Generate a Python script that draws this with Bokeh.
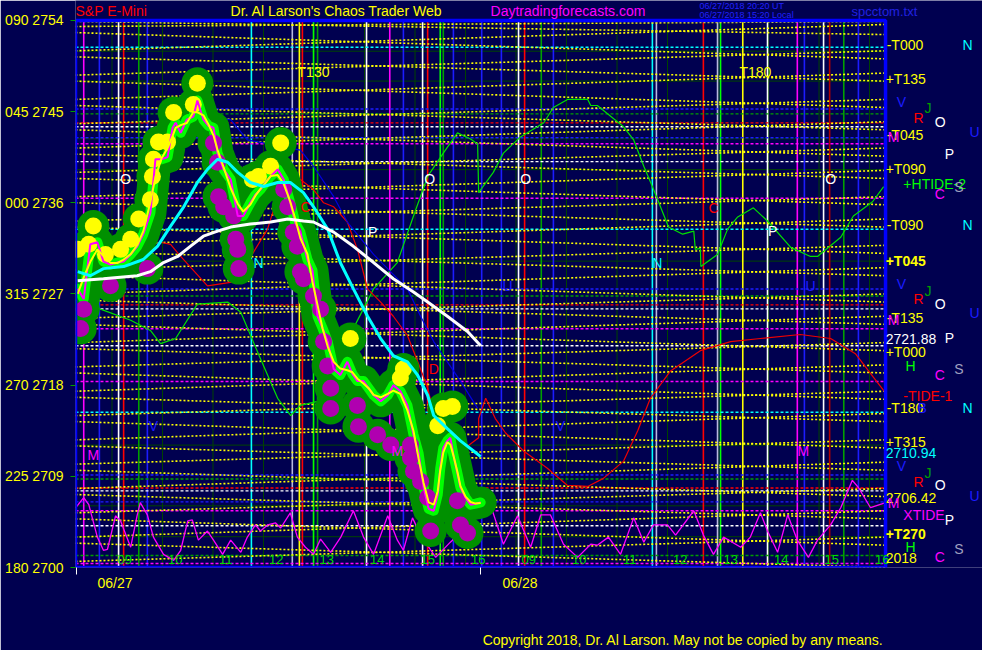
from bokeh.plotting import figure
from bokeh.models import (Range1d, FixedTicker, ColumnDataSource, CustomJSTickFormatter, LinearAxis)
from bokeh.embed import file_html
from bokeh.resources import INLINE
from bokeh.core.properties import value
import pandas as pd

FONT = "Liberation Sans"
BG = "#000050"
Y, CY, BL, GR, GN, RD, DRD, WH, MG, LAV, GY = ("#ffff00", "#00ffff", "#1c1cff", "#00a000", "#00ff00",
                                               "#ff0000", "#b00000", "#ffffff", "#ff00ff", "#b8b8e0", "#a0a0c0")

# x = session hour: 06/27 09:00 -> 9 ; 06/28 09:00 -> 17 (overnight compressed)
X_START, X_END = 8.277, 24.317          # chart box
Y_MIN, Y_MAX = 2700, 2754
VIEW_X_END = 26.237                     # frame extends right for the side labels
VIEW_Y_END = 2755.964                   # frame extends up for the header

LEFT_TICKS = [2700, 2709, 2718, 2727, 2736, 2745, 2754]
LEFT_LABELS = ["180 2700", "225 2709", "270 2718", "315 2727", "000 2736", "045 2745", "090 2754"]
DATE_TICKS = [9.06, 17.08]
DATE_MARKS = [8.30, 16.30]
HOURS = [9, 10, 11, 12, 13, 14, 15, 16]
COPYRIGHT = "Copyright 2018, Dr. Al Larson. May not be copied by any means."

PRICE_T = [8.32, 8.44, 8.57, 8.71, 8.83, 8.97, 9.11, 9.23, 9.37, 9.50, 9.62, 9.76, 9.86, 9.98, 10.10, 10.20,
           10.26, 10.36, 10.48, 10.61, 10.69, 10.81, 10.91, 11.01, 11.09, 11.21, 11.35, 11.49, 11.60, 11.74,
           11.84, 11.94, 12.04, 12.14, 12.28, 12.40, 12.53, 12.63, 12.73, 12.87, 12.97, 13.07, 13.17, 13.27,
           13.39, 13.52, 13.66, 13.76, 13.86, 13.98, 14.08, 14.18, 14.32, 14.46, 14.57, 14.71, 14.85, 14.97,
           15.07, 15.17, 15.27, 15.37, 15.45, 15.50, 15.56, 15.64, 15.70, 15.76, 15.84, 15.90, 16.00, 16.10,
           16.20, 16.30]
PRICE_V = [2727.5, 2726.5, 2731.9, 2732.1, 2730.2, 2729.9, 2730.1, 2730.2, 2730.9, 2731.7, 2732.9, 2735.0,
           2740.3, 2740.3, 2740.5, 2743.4, 2743.9, 2742.9, 2744.2, 2744.5, 2746.1, 2744.2, 2743.6, 2743.4,
           2740.9, 2739.3, 2738.3, 2734.7, 2734.7, 2736.0, 2736.8, 2737.3, 2738.0, 2738.6, 2739.3, 2738.3,
           2736.0, 2734.0, 2733.1, 2730.4, 2729.3, 2724.8, 2723.6, 2722.3, 2719.6, 2719.0, 2720.3, 2719.1,
           2718.4, 2718.4, 2717.7, 2717.0, 2716.4, 2717.0, 2718.0, 2717.4, 2716.0, 2713.1, 2711.3, 2707.9,
           2705.8, 2705.6, 2707.2, 2709.8, 2711.8, 2712.5, 2712.8, 2711.1, 2709.3, 2707.9, 2706.9, 2706.2,
           2706.3, 2706.42]

CYAN_T = [8.32, 8.57, 8.83, 9.23, 9.62, 9.90, 10.16, 10.42, 10.69, 10.89, 11.09, 11.29, 11.49, 11.74, 12.00,
          12.28, 12.53, 12.79, 12.99, 13.27, 13.52, 13.78, 14.06, 14.32, 14.57, 14.85, 15.05, 15.25, 15.37,
          15.64, 15.90, 16.16, 16.30]
CYAN_V = [2729.2, 2728.8, 2729.5, 2729.7, 2730.4, 2731.7, 2733.7, 2735.6, 2738.0, 2739.3, 2740.3, 2740.0,
          2739.0, 2738.0, 2737.6, 2738.0, 2738.0, 2737.0, 2735.6, 2733.4, 2730.1, 2727.5, 2724.8, 2722.6,
          2720.9, 2720.3, 2719.0, 2717.0, 2715.0, 2713.7, 2712.5, 2711.5, 2710.94]

WHITE_T = [8.32, 8.83, 9.50, 9.76, 10.02, 10.30, 10.55, 10.81, 11.09, 11.35, 11.74, 12.14, 12.48, 12.79,
           12.99, 13.39, 13.78, 14.18, 14.57, 14.97, 15.25, 15.64, 16.04, 16.30]
WHITE_V = [2728.3, 2728.5, 2728.8, 2729.2, 2730.1, 2730.7, 2731.7, 2732.7, 2733.2, 2733.6, 2733.9, 2734.1,
           2734.4, 2734.2, 2734.1, 2733.1, 2731.7, 2730.1, 2728.5, 2727.2, 2726.2, 2724.8, 2723.3, 2721.88]

RED_T = [8.32, 8.97, 9.56, 9.96, 10.16, 10.36, 10.89, 11.41, 11.80, 12.08, 12.28, 12.48, 12.73, 12.99,
         13.19, 13.39, 13.66, 13.86, 14.06, 14.32, 14.57, 14.85, 15.11, 15.25, 15.35, 15.51, 15.66, 15.94,
         16.26, 16.26, 16.40, 16.59, 16.79, 17.15, 17.62, 18.02, 18.42, 18.73, 19.13, 19.41, 19.66, 20.06,
         20.65, 21.25, 21.84, 22.63, 23.23, 23.72, 24.06, 24.32]
RED_V = [2728.2, 2728.5, 2729.7, 2732.1, 2731.9, 2730.7, 2727.8, 2728.2, 2731.1, 2733.4, 2736.6, 2738.3,
         2738.3, 2737.3, 2736.0, 2735.6, 2734.1, 2731.4, 2727.5, 2726.2, 2724.8, 2722.9, 2719.6, 2717.7,
         2715.7, 2712.8, 2711.0, 2711.6, 2712.8, 2714.7, 2716.7, 2714.7, 2713.3, 2711.5, 2709.8, 2708.1,
         2708.0, 2708.8, 2710.5, 2713.5, 2716.7, 2719.4, 2721.4, 2722.3, 2722.6, 2723.0, 2722.6, 2721.1,
         2718.9, 2717.2]

GREEN_T = [8.32, 8.77, 9.37, 9.76, 9.96, 10.26, 10.69, 11.29, 11.55, 11.94, 12.28, 12.54, 12.73, 13.07,
           13.53, 13.78, 14.18, 14.65, 14.97, 15.25, 15.56, 15.84, 16.10, 16.24, 16.26, 16.55, 16.75, 17.09,
           17.55, 17.74, 18.02, 18.42, 18.48, 18.61, 19.13, 19.33, 19.53, 19.70, 19.86, 20.02, 20.30, 20.52,
           20.55, 20.65, 20.66, 20.99, 21.19, 21.39, 21.70, 21.98, 22.44, 22.83, 22.97, 23.43, 23.68, 24.06,
           24.28]
GREEN_V = [2727.0, 2725.5, 2724.4, 2723.4, 2722.1, 2722.6, 2726.0, 2726.2, 2725.2, 2720.6, 2716.7, 2715.0,
           2716.0, 2716.4, 2718.7, 2723.6, 2727.5, 2730.1, 2734.7, 2738.6, 2740.9, 2742.9, 2742.3, 2741.8,
           2737.0, 2739.0, 2740.9, 2742.5, 2743.9, 2745.4, 2746.2, 2746.2, 2745.6, 2745.6, 2743.5, 2742.2,
           2739.6, 2737.6, 2735.6, 2733.6, 2732.9, 2733.2, 2731.4, 2731.5, 2729.7, 2730.9, 2733.4, 2734.6,
           2735.5, 2734.2, 2731.6, 2730.7, 2730.7, 2732.6, 2734.7, 2736.1, 2737.6]

BLUE_T = [10.75, 11.35, 11.68, 12.73, 12.99, 13.39, 13.66, 14.18, 14.85, 15.11, 15.37, 15.64, 15.90, 16.24]
BLUE_V = [2744.5, 2744.2, 2742.2, 2741.2, 2739.6, 2736.6, 2734.1, 2730.9, 2727.5, 2724.8, 2722.3, 2720.3,
          2718.4, 2715.7]

OSC_T = [8.28, 8.44, 8.54, 8.71, 8.83, 8.91, 9.07, 9.17, 9.37, 9.50, 9.56, 9.70, 9.82, 10.02, 10.22, 10.36,
         10.50, 10.59, 10.71, 10.89, 11.01, 11.19, 11.35, 11.55, 11.68, 11.84, 11.94, 12.08, 12.24, 12.34,
         12.53, 12.67, 12.83, 12.99, 13.13, 13.33, 13.53, 13.78, 13.98, 14.18, 14.46, 14.65, 14.77, 14.95,
         15.11, 15.41, 15.70, 16.00, 16.30, 16.50, 16.75, 17.03, 17.29, 17.49, 17.68, 17.94, 18.22, 18.48,
         18.61, 18.83, 19.07, 19.33, 19.53, 19.72, 20.00, 20.16, 20.52, 20.71, 20.91, 21.11, 21.45, 21.64,
         21.84, 21.98, 22.18, 22.38, 22.57, 22.79, 22.97, 23.23, 23.43, 23.66, 23.78, 24.02, 24.32]
OSC_V = [2705.9, 2706.9, 2706.2, 2703.0, 2701.7, 2701.8, 2705.1, 2704.6, 2702.0, 2705.2, 2706.4, 2705.2,
         2703.0, 2701.3, 2700.7, 2701.7, 2704.6, 2704.7, 2702.7, 2703.6, 2702.7, 2701.3, 2702.7, 2701.5,
         2703.0, 2704.2, 2703.6, 2704.2, 2704.4, 2703.9, 2705.4, 2703.0, 2702.0, 2701.3, 2702.8, 2701.5,
         2703.0, 2705.6, 2703.0, 2701.3, 2705.1, 2702.7, 2701.7, 2704.9, 2703.2, 2701.0, 2702.5, 2703.9,
         2705.4, 2706.1, 2702.3, 2705.1, 2702.0, 2705.2, 2705.2, 2702.3, 2701.0, 2702.3, 2702.2, 2703.0,
         2701.3, 2704.9, 2702.5, 2704.2, 2704.2, 2703.2, 2705.6, 2703.2, 2701.3, 2703.0, 2702.0, 2703.0,
         2705.4, 2703.6, 2701.5, 2705.2, 2702.7, 2701.0, 2702.7, 2704.2, 2705.9, 2708.6, 2707.9, 2705.9,
         2706.4]

YDOT_T = [8.32, 8.54, 8.63, 8.87, 9.17, 9.37, 9.53, 9.76, 9.80, 9.82, 9.92, 10.10, 10.22, 10.61, 10.69,
          11.78, 11.90, 12.14, 12.34, 13.72, 14.71, 14.77, 15.45, 15.56, 15.74]
YDOT_V = [2731.4, 2731.9, 2733.7, 2730.9, 2731.4, 2732.4, 2734.4, 2736.3, 2738.6, 2740.3, 2742.0, 2742.0,
          2744.9, 2745.7, 2747.8, 2738.3, 2738.6, 2739.6, 2741.9, 2722.6, 2718.7, 2719.6, 2714.0, 2715.7,
          2715.9]
MDOT_T = [8.38, 8.44, 8.97, 9.70, 11.01, 11.09, 11.11, 11.21, 11.41, 11.45, 11.49, 11.51, 12.40, 12.48,
          12.59, 12.67, 12.73, 12.79, 12.99, 13.13, 13.19, 13.27, 13.33, 13.33, 13.86, 13.88, 14.26, 14.52,
          14.91, 14.91, 14.97, 15.11, 15.25, 15.31, 15.84, 15.90, 16.04]
MDOT_V = [2723.6, 2725.5, 2727.8, 2729.5, 2741.9, 2740.0, 2736.6, 2735.6, 2734.7, 2732.4, 2731.4, 2729.5,
          2737.3, 2735.6, 2733.1, 2731.7, 2729.2, 2728.5, 2726.8, 2725.5, 2722.3, 2719.9, 2717.7, 2715.7,
          2716.0, 2713.9, 2713.1, 2712.1, 2712.1, 2710.8, 2709.5, 2708.5, 2706.9, 2703.6, 2706.6, 2704.2,
          2703.4]

# yellow dotted harmonic lines: price at left edge, price at right edge
YL_LEFT = [2700.6, 2703.0, 2705.4, 2707.8, 2710.2, 2712.6, 2715.0, 2717.4, 2719.8, 2722.2, 2724.6, 2727.0,
           2729.4, 2731.8, 2734.2, 2736.6, 2739.0, 2741.4, 2743.8, 2746.2, 2748.6, 2751.0, 2753.4,
           2702.4, 2704.8, 2707.2, 2709.6, 2712.0, 2714.4, 2716.8, 2719.2, 2721.6, 2724.0, 2726.4, 2728.8,
           2731.2, 2733.6, 2736.0, 2738.4, 2740.8, 2743.2, 2745.6, 2748.0, 2750.4, 2752.8, 2753.9]
YL_RIGHT = [2703.0, 2705.6, 2707.8, 2710.4, 2712.6, 2715.2, 2717.4, 2720.0, 2722.2, 2724.8, 2727.0, 2729.6,
            2731.8, 2734.4, 2736.6, 2739.2, 2741.4, 2744.0, 2746.2, 2748.8, 2751.0, 2753.6, 2753.9,
            2700.0, 2702.2, 2704.8, 2707.0, 2709.6, 2711.8, 2714.4, 2716.6, 2719.2, 2721.4, 2724.0, 2726.2,
            2728.8, 2731.0, 2733.6, 2735.8, 2738.4, 2740.6, 2743.2, 2745.4, 2748.0, 2750.2, 2752.6]

VL_X = [8.44, 8.75, 9.13, 9.23, 9.53, 9.70, 11.76, 12.57, 12.71, 12.77, 12.99, 13.07, 14.04, 14.50, 14.77,
        15.15, 15.25, 15.50, 15.56, 15.76, 16.32, 16.71, 17.05, 17.17, 17.50, 17.74, 19.70, 19.78, 20.71,
        20.99, 21.05, 21.49, 21.98, 22.57, 22.71, 23.09, 23.21, 23.49, 23.78]
VL_COLOR = [MG, BL, WH, RD, GR, BL, CY, LAV, Y, RD, GN, GR, WH, MG, BL, WH, RD, GN, GR, BL, BL, BL, WH, RD,
            GR, BL, CY, LAV, RD, LAV, GN, Y, WH, MG, BL, WH, DRD, GR, BL]

HL_Y = [2751.35, 2733.38, 2715.32, 2745.26, 2742.42, 2727.49, 2709.13, 2706.48, 2744.77, 2726.80, 2708.74,
        2701.18, 2743.89, 2725.92, 2707.85, 2743.50, 2740.06, 2725.53, 2721.88, 2707.56, 2704.12, 2741.83,
        2736.44, 2723.56, 2718.36, 2705.60, 2700.39]
HL_COLOR = [CY, CY, CY, BL, BL, BL, BL, BL, GR, GR, GR, GR, RD, RD, RD, WH, WH, WH, WH, WH, WH, MG, MG, MG,
            MG, MG, MG]
HG_Y = [2750.96, 2748.01, 2742.32, 2739.27, 2730.24, 2712.08, 2706.09, 2703.04]

RL_TEXT = ["-T000", "N", "+T135", "V", "J", "R", "O", "U", "-T045", "M", "P", "+T090", "+HTIDE-2", "S", "C",
           "-T090", "N", "+T045", "V", "J", "R", "O", "U", "-T135", "M", "2721.88", "P", "+T000", "H", "S",
           "C", "-TIDE-1", "-T180", "B", "N", "+T315", "2710.94", "V", "J", "R", "O", "U", "2706.42", "M",
           "XTIDE", "P", "+T270", "H", "S", "2018", "C"]
RL_X = [24.34, 25.84, 24.32, 24.54, 25.09, 24.87, 25.29, 25.98, 24.34, 24.36, 25.49, 24.32, 24.67, 25.68,
        25.29, 24.34, 25.84, 24.32, 24.54, 25.09, 24.87, 25.29, 25.98, 24.34, 24.36, 24.32, 25.49, 24.32,
        24.71, 25.68, 25.29, 24.67, 24.34, 24.95, 25.84, 24.32, 24.32, 24.54, 25.09, 24.87, 25.29, 25.98,
        24.32, 24.36, 24.67, 25.49, 24.32, 24.71, 25.68, 24.32, 25.29]
RL_Y = [2751.6, 2751.6, 2748.2, 2745.9, 2745.4, 2744.4, 2744.0, 2743.0, 2742.7, 2742.5, 2740.8, 2739.3,
        2737.9, 2737.6, 2736.9, 2733.8, 2733.8, 2730.3, 2728.0, 2727.3, 2726.5, 2726.0, 2725.1, 2724.6,
        2724.4, 2722.6, 2722.7, 2721.3, 2719.9, 2719.6, 2719.0, 2716.9, 2715.7, 2715.7, 2715.7, 2712.4,
        2711.3, 2710.0, 2709.3, 2708.4, 2708.1, 2707.1, 2706.9, 2706.4, 2705.2, 2704.7, 2703.3, 2702.0,
        2701.8, 2700.9, 2701.0]
RL_COLOR = [Y, CY, Y, BL, GR, RD, WH, BL, Y, MG, WH, Y, GN, GY, MG, Y, CY, Y, BL, GR, RD, WH, BL, Y, MG, WH,
            WH, Y, GN, GY, MG, RD, Y, BL, CY, Y, CY, BL, GR, RD, WH, BL, Y, MG, MG, WH, Y, GN, GY, Y, MG]

IN_TEXT = ["T130", "T180", "O", "O", "O", "O", "N", "N", "P", "P", "C", "C", "M", "M", "M", "D", "V", "V",
           "U", "U"]
IN_X = [12.99, 21.74, 9.27, 15.29, 17.19, 23.23, 11.90, 19.80, 14.16, 22.08, 20.91, 12.83, 8.63, 14.65,
        22.69, 15.37, 9.82, 17.88, 16.83, 22.83]
IN_Y = [2748.9, 2748.9, 2738.3, 2738.3, 2738.3, 2738.3, 2730.1, 2730.1, 2733.1, 2733.2, 2735.5, 2735.6,
        2711.1, 2711.5, 2711.5, 2719.6, 2714.0, 2714.0, 2727.8, 2727.8]
IN_COLOR = [Y, Y, WH, WH, WH, WH, CY, CY, WH, WH, RD, RD, MG, MG, MG, RD, BL, BL, BL, BL]

HEAD_TEXT = ["S&P E-Mini", "Dr. Al Larson's Chaos Trader Web", "Daytradingforecasts.com", "spcctom.txt"]
HEAD_X = [8.277, 11.347, 16.495, 23.644]
HEAD_COLOR = [RD, Y, MG, "#2020e0"]
HEAD_SIZE = ["14px", "14px", "14px", "13px"]
STAMP_TEXT = ["06/27/2018 20:20 UT", "06/27/2018 15:20 Local"]
STAMP_Y = [2755.47, 2754.58]

p = figure(width=982, height=650, x_range=Range1d(X_START, VIEW_X_END), y_range=Range1d(Y_MIN, VIEW_Y_END),
           output_backend="svg", toolbar_location=None,
           min_border_left=75, min_border_right=0, min_border_top=0, min_border_bottom=80,
           background_fill_color=BG, border_fill_color=BG, outline_line_color=None)
p.xgrid.visible = False
p.ygrid.visible = False

# axes
ya = p.yaxis[0]
ya.ticker = FixedTicker(ticks=LEFT_TICKS)
ya.major_label_overrides = dict(zip(LEFT_TICKS, LEFT_LABELS))
ya.major_label_text_color = Y
ya.major_label_text_font = FONT
ya.major_label_text_font_size = "14px"
ya.major_label_standoff = 7
ya.major_tick_out = 5
ya.major_tick_in = 0
ya.major_tick_line_color = GR
ya.minor_tick_line_color = None
ya.axis_line_color = None

xa = p.xaxis[0]
xa.ticker = FixedTicker(ticks=DATE_TICKS, minor_ticks=DATE_MARKS)
xa.formatter = CustomJSTickFormatter(code="return tick < 13 ? '06/27' : '06/28';")
xa.major_label_text_color = Y
xa.major_label_text_font = FONT
xa.major_label_text_font_size = "14px"
xa.major_label_standoff = 0
xa.major_tick_out = 0
xa.major_tick_in = 0
xa.minor_tick_out = 7
xa.minor_tick_in = 0
xa.minor_tick_line_color = WH
xa.axis_line_color = None

ca = LinearAxis(ticker=FixedTicker(ticks=[20.307]),
                formatter=CustomJSTickFormatter(code="return '%s';" % COPYRIGHT))
ca.major_label_text_color = Y
ca.major_label_text_font = FONT
ca.major_label_text_font_size = "14px"
ca.major_label_standoff = 32
ca.major_tick_line_color = None
ca.minor_tick_line_color = None
ca.axis_line_color = None
p.add_layout(ca, "below")

# grids and level lines, bounded to the chart box
gx = [h + d for d in (0, 8) for h in HOURS]
p.segment(x0=gx, y0=[Y_MIN] * len(gx), x1=gx, y1=[Y_MAX] * len(gx), line_color="#004400", line_width=1)
p.segment(x0=[X_START] * len(HG_Y), y0=HG_Y, x1=[X_END] * len(HG_Y), y1=HG_Y, line_color="#004400",
          line_width=1)
p.segment(x0=VL_X, y0=[Y_MIN] * len(VL_X), x1=VL_X, y1=[Y_MAX] * len(VL_X), line_color=VL_COLOR,
          line_width=1.6)
p.segment(x0=[X_START] * len(HL_Y), y0=HL_Y, x1=[X_END] * len(HL_Y), y1=HL_Y, line_color=HL_COLOR,
          line_width=1.4, line_dash="3 2")

# yellow harmonic lattice
p.multi_line(xs=[[X_START, X_END]] * len(YL_LEFT), ys=[[a, b] for a, b in zip(YL_LEFT, YL_RIGHT)],
             line_color=Y, line_width=1.6, line_dash="2 2")

# tide curves
p.line(GREEN_T, GREEN_V, line_color="#00e000", line_width=1.2)
p.line(RED_T, RED_V, line_color="#f00000", line_width=1.2)
p.line(BLUE_T, BLUE_V, line_color="#0000e0", line_width=1.2)
p.line(OSC_T, OSC_V, line_color=MG, line_width=1.3)

# price band
p.line(PRICE_T, PRICE_V, line_color="#009000", line_width=32, line_join="round", line_cap="round")
p.scatter(YDOT_T + MDOT_T, YDOT_V + MDOT_V, size=32, fill_color="#009000", line_color=None)
p.line(PRICE_T, PRICE_V, line_color="#00ff00", line_width=10, line_join="round", line_cap="round")
p.scatter(YDOT_T, YDOT_V, size=17, fill_color=Y, line_color=None)
p.scatter(MDOT_T, MDOT_V, size=17, fill_color="#b000b0", line_color=None)

smooth = pd.Series(PRICE_V).rolling(3, center=True, min_periods=1).mean()
p.line(PRICE_T, PRICE_V, line_color=MG, line_width=2)
p.line(PRICE_T, list(smooth), line_color=Y, line_width=2)
p.line(CYAN_T, CYAN_V, line_color=CY, line_width=3)
p.line(WHITE_T, WHITE_V, line_color=WH, line_width=3)

# chart box outline
p.line([X_START, X_END, X_END, X_START, X_START], [Y_MAX, Y_MAX, Y_MIN, Y_MIN, Y_MAX],
       line_color="#0000ff", line_width=3.5)

# in-plot letters
p.text(IN_X, IN_Y, text=IN_TEXT, text_color=IN_COLOR, text_font=value(FONT), text_font_size="14px",
       text_align="center", text_baseline="middle")
hx = [h + 0.25 for h in HOURS] + [h + 8.25 for h in HOURS]
hl = ["%02d" % h for h in HOURS] * 2
p.text(hx, [2700.8] * len(hx), text=hl, text_color="#00dd00", text_font=value(FONT),
       text_font_size="13px", text_align="center", text_baseline="middle")

# right side labels
rsrc = ColumnDataSource(dict(x=RL_X, y=RL_Y, text=RL_TEXT, color=RL_COLOR,
                             style=["bold" if t in ("+T045", "+T270") else "normal" for t in RL_TEXT]))
p.text(x="x", y="y", text="text", source=rsrc, text_color="color", text_font=value(FONT),
       text_font_size="14px", text_font_style="style", text_baseline="middle", text_align="left")

# header
for t, x, c, s in zip(HEAD_TEXT, HEAD_X, HEAD_COLOR, HEAD_SIZE):
    p.text([x], [2754.88], text=[t], text_color=c, text_font=value(FONT), text_font_size=s,
           text_baseline="middle", text_align="left")
p.text([20.634] * 2, STAMP_Y, text=STAMP_TEXT, text_color="#2020ff", text_font=value(FONT),
       text_font_size="9px", text_baseline="middle", text_align="left")

open("out.html", "w").write(file_html(p, INLINE))
